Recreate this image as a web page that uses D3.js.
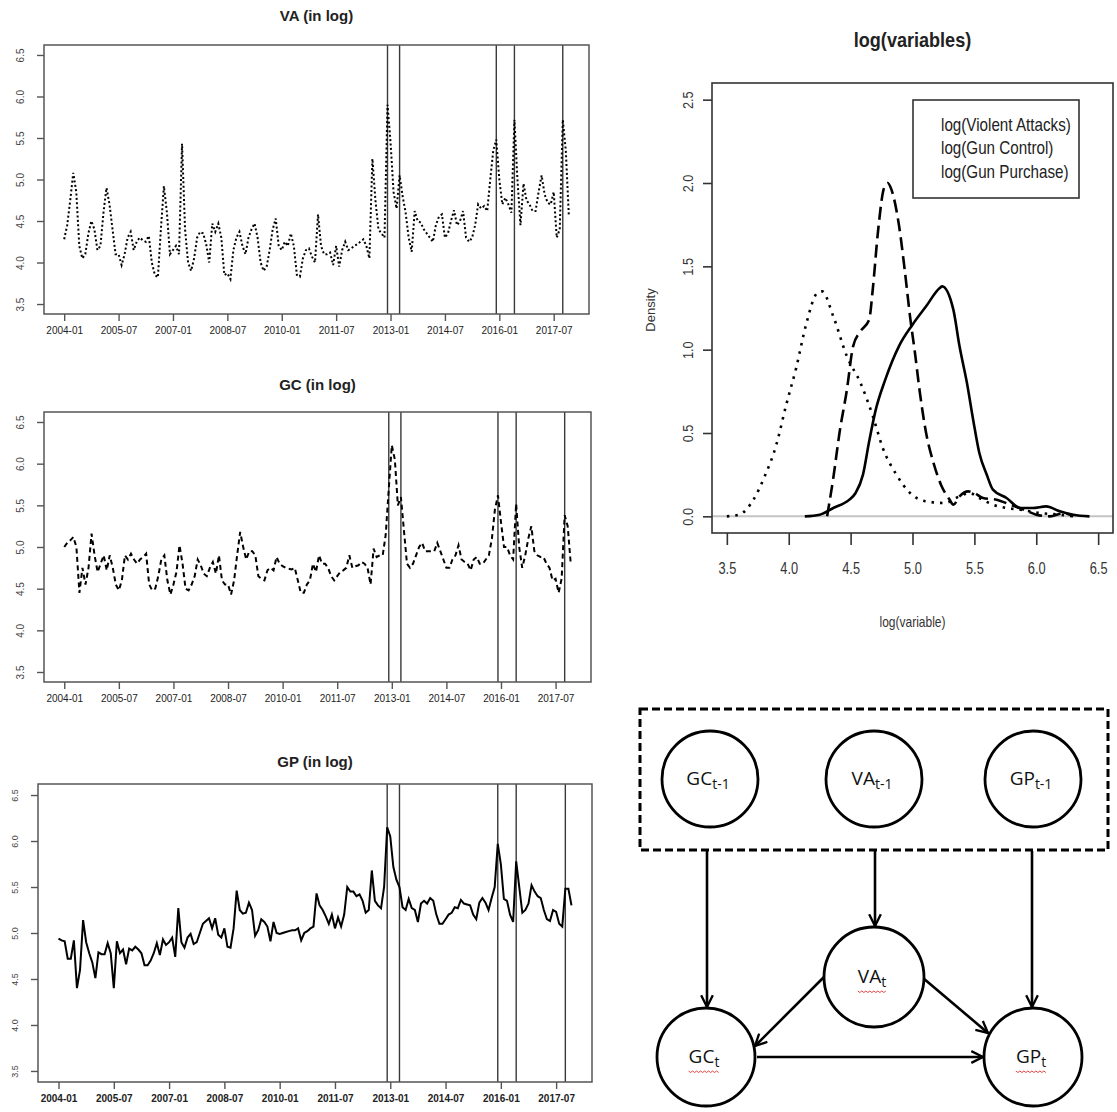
<!DOCTYPE html>
<meta charset="utf-8">
<style>
body { margin: 0; background: #fff; }
text { font-family: "Liberation Sans", Arial, sans-serif; fill: #222; }
.node text { font-family: "Open Sans", "Noto Sans", sans-serif; fill: #111; }
</style>
<body>
<script src="https://d3js.org/d3.v7.min.js"></script>
<script>

// ---- data ----
var startYear = 2004;
var tickLabels = ["2004-01", "2005-07", "2007-01", "2008-07", "2010-01", "2011-07", "2013-01", "2014-07", "2016-01", "2017-07"];
var eventMonths = ["2012-12", "2013-04", "2015-12", "2016-06", "2017-10"];
var yTicks = [3.5, 4.0, 4.5, 5.0, 5.5, 6.0, 6.5];

// monthly series, 2004-01 .. 2017-12
var vaLog = [
  4.28, 4.45, 4.75, 5.08, 4.85, 4.2, 4.05, 4.1, 4.35, 4.5, 4.4, 4.15,
  4.2, 4.6, 4.9, 4.7, 4.4, 4.1, 4.1, 3.97, 4.1, 4.3, 4.37, 4.15,
  4.25, 4.3, 4.27, 4.25, 4.32, 4.0, 3.85, 3.82, 4.4, 4.92, 4.6, 4.1,
  4.15, 4.2, 4.1, 5.43, 4.4, 4.0, 3.9, 4.05, 4.3, 4.37, 4.35, 4.22,
  4.0, 4.47, 4.37, 4.47, 4.3, 3.85, 3.87, 3.8, 4.15, 4.3, 4.37, 4.2,
  4.1, 4.3, 4.4, 4.47, 4.3, 4.0, 3.9, 3.95, 4.15, 4.4, 4.53, 4.2,
  4.15, 4.25, 4.2, 4.35, 4.2, 3.85, 3.83, 4.05, 4.15, 4.17, 4.07, 4.0,
  4.58, 4.2, 4.1, 4.1, 4.12, 3.97, 4.2, 3.95, 4.15, 4.25, 4.15, 4.17,
  4.2, 4.22, 4.25, 4.28, 4.2, 4.05, 5.25, 4.75, 4.4, 4.35, 4.3, 5.9,
  5.45, 4.85, 4.65, 5.05, 4.8, 4.6, 4.3, 4.13, 4.62, 4.5, 4.48, 4.4,
  4.35, 4.3, 4.25, 4.45, 4.55, 4.58, 4.3, 4.35, 4.5, 4.63, 4.45, 4.5,
  4.62, 4.3, 4.25, 4.3, 4.45, 4.7, 4.65, 4.68, 4.62, 5.0, 5.35, 5.48,
  5.0, 4.7, 4.78, 4.7, 4.6, 5.72, 5.0, 4.45, 4.95, 4.75, 4.7, 4.62,
  4.62, 4.85, 5.05, 4.82, 4.72, 4.7, 4.85, 4.3, 4.4, 5.72, 5.35, 4.57
];
var gcLog = [
  5.0, 5.05, 5.08, 5.12, 5.0, 4.45, 4.75, 4.55, 4.75, 5.16, 4.9, 4.7,
  4.8, 4.9, 4.72, 4.9, 4.75, 4.55, 4.48, 4.6, 4.9, 4.85, 4.92, 4.85,
  4.8, 4.85, 4.88, 4.92, 4.55, 4.48, 4.5, 4.65, 4.85, 4.9, 4.6, 4.43,
  4.55, 4.7, 5.02, 4.8, 4.5, 4.48, 4.55, 4.65, 4.85, 4.78, 4.68, 4.65,
  4.75, 4.82, 4.68, 4.9, 4.6, 4.55, 4.55, 4.43, 4.6, 4.9, 5.18, 5.0,
  4.85, 4.95, 4.95, 4.9, 4.65, 4.62, 4.6, 4.72, 4.75, 4.72, 4.88, 4.8,
  4.77, 4.75, 4.74, 4.73, 4.75, 4.6, 4.45, 4.45, 4.55, 4.6, 4.8, 4.7,
  4.9, 4.8, 4.8, 4.75, 4.65, 4.6, 4.65, 4.7, 4.72, 4.75, 4.9, 4.75,
  4.77, 4.78, 4.82, 4.8, 4.75, 4.55, 4.98, 4.88, 4.9, 4.9, 5.15, 5.7,
  6.22, 6.05, 5.5, 5.6, 5.2, 4.8, 4.75, 4.8, 4.9, 5.0, 5.05, 4.95,
  4.95, 4.95, 4.95, 5.05, 4.95, 4.85, 4.75, 4.75, 4.85, 4.9, 5.02, 4.85,
  4.82, 4.8, 4.72, 4.85, 4.88, 4.8, 4.8, 4.85, 4.9, 5.1, 5.45, 5.62,
  5.3, 5.0, 5.0, 4.9, 4.85, 5.52, 5.0, 4.75, 4.9, 5.1, 5.25, 4.95,
  4.9, 4.88, 4.88, 4.8, 4.75, 4.6, 4.62, 4.45, 4.62, 5.38, 5.25, 4.8
];
var gpLog = [
  4.94, 4.92, 4.91, 4.72, 4.72, 4.92, 4.4, 4.6, 5.14, 4.9, 4.78, 4.68,
  4.51, 4.79, 4.77, 4.77, 4.89, 4.78, 4.4, 4.91, 4.78, 4.82, 4.66, 4.83,
  4.81, 4.85, 4.82, 4.78, 4.65, 4.65, 4.7, 4.78, 4.89, 4.76, 4.93, 4.87,
  4.9, 4.95, 4.74, 5.27, 4.9, 4.84, 4.95, 4.99, 4.88, 4.9, 5.0, 5.1,
  5.13, 5.16, 5.05, 5.16, 4.98, 4.95, 5.05, 4.85, 4.84, 5.05, 5.46, 5.25,
  5.21, 5.22, 5.33, 5.25, 4.97, 5.03, 5.15, 5.12, 5.07, 4.91, 5.12, 5.0,
  4.99, 5.0, 5.01, 5.02, 5.03, 5.03, 5.05, 4.92, 5.0, 5.02, 5.05, 5.07,
  5.43, 5.3, 5.25, 5.18, 5.1, 5.2, 5.05, 5.17, 5.07, 5.2, 5.5, 5.45,
  5.45, 5.4, 5.42, 5.35, 5.22, 5.25, 5.68, 5.35, 5.3, 5.27, 5.5, 6.15,
  6.05, 5.72, 5.58, 5.5, 5.28, 5.25, 5.37, 5.27, 5.25, 5.12, 5.32, 5.35,
  5.32, 5.38, 5.35, 5.2, 5.1, 5.1, 5.15, 5.2, 5.22, 5.28, 5.27, 5.36,
  5.32, 5.31, 5.3, 5.2, 5.15, 5.33, 5.38, 5.33, 5.25, 5.38, 5.5, 5.97,
  5.75, 5.37, 5.35, 5.2, 5.12, 5.78, 5.5, 5.22, 5.25, 5.32, 5.52, 5.45,
  5.4, 5.38, 5.25, 5.15, 5.13, 5.25, 5.23, 5.1, 5.07, 5.48, 5.48, 5.3
];

// kernel density curves (x = log value, y = density)
var densTicksX = [3.5, 4.0, 4.5, 5.0, 5.5, 6.0, 6.5];
var densTicksY = [0, 0.5, 1.0, 1.5, 2.0, 2.5];
var vaDensX = [3.5, 3.6, 3.715, 3.8, 3.9, 3.98, 4.06, 4.14, 4.23, 4.27, 4.36, 4.47, 4.58, 4.68, 4.76, 4.87, 4.98, 5.11, 5.26, 5.38, 5.46, 5.54, 5.65, 5.76, 5.87, 6.03, 6.19, 6.3];
var vaDensY = [0, 0.01, 0.1, 0.23, 0.43, 0.67, 0.89, 1.15, 1.34, 1.35, 1.2, 0.96, 0.8, 0.6, 0.41, 0.25, 0.14, 0.09, 0.08, 0.12, 0.14, 0.11, 0.07, 0.05, 0.04, 0.02, 0.01, 0];
var gcDensX = [4.31, 4.36, 4.41, 4.47, 4.52, 4.58, 4.65, 4.68, 4.72, 4.77, 4.8, 4.83, 4.89, 4.94, 4.98, 5.02, 5.06, 5.11, 5.17, 5.23, 5.30, 5.33, 5.38, 5.45, 5.50, 5.57, 5.68, 5.79, 5.9, 6.0, 6.11, 6.22, 6.3];
var gcDensY = [0, 0.23, 0.5, 0.76, 1.02, 1.11, 1.18, 1.37, 1.70, 1.97, 2.0, 1.96, 1.75, 1.46, 1.2, 0.98, 0.74, 0.5, 0.32, 0.19, 0.1, 0.07, 0.12, 0.15, 0.14, 0.11, 0.10, 0.07, 0.04, 0.01, 0.0, 0.02, 0];
var gpDensX = [4.13, 4.25, 4.36, 4.49, 4.54, 4.60, 4.65, 4.70, 4.78, 4.89, 5.0, 5.11, 5.22, 5.24, 5.33, 5.38, 5.44, 5.49, 5.54, 5.60, 5.65, 5.76, 5.87, 5.97, 6.08, 6.19, 6.3, 6.43];
var gpDensY = [0, 0.01, 0.05, 0.1, 0.14, 0.25, 0.45, 0.63, 0.82, 1.02, 1.15, 1.26, 1.37, 1.38, 1.24, 1.02, 0.8, 0.58, 0.38, 0.25, 0.16, 0.11, 0.05, 0.05, 0.06, 0.03, 0.01, 0];
var legendLabels = ["log(Violent Attacks)", "log(Gun Control)", "log(Gun Purchase)"];

// ---- helpers ----
function monthIndex(s) {
  var p = s.split("-");
  return (+p[0] - startYear) * 12 + (+p[1] - 1);
}

// squeeze text horizontally, standing in for Arial Narrow
function narrow(sel, f) {
  sel.each(function() {
    var w = this.getComputedTextLength();
    d3.select(this)
        .attr("textLength", w * f)
        .attr("lengthAdjust", "spacingAndGlyphs");
  });
}

var svg = d3.select("body").append("svg")
    .attr("width", 1117)
    .attr("height", 1112);

// ---- the three time series panels ----
var panels = [
  {title: "VA (in log)", data: vaLog, dash: "2,2.4", box: {l: 44, r: 589, t: 45, b: 314}, titleY: 16, yFont: 10, xBold: false},
  {title: "GC (in log)", data: gcLog, dash: "5,3.5", box: {l: 44, r: 591, t: 412, b: 682}, titleY: 385, yFont: 10, xBold: false},
  {title: "GP (in log)", data: gpLog, dash: null, box: {l: 38, r: 592, t: 784, b: 1082}, titleY: 762, yFont: 9, xBold: true}
];

panels.forEach(function(p) {
  var g = svg.append("g");
  var n = p.data.length - 1;
  var x = d3.scaleLinear().domain([-0.04 * n, 1.04 * n]).range([p.box.l, p.box.r]);
  var y = d3.scaleLinear().domain([3.38, 6.62]).range([p.box.b, p.box.t]);

  // event lines
  g.selectAll(".ev")
      .data(eventMonths)
    .enter().append("line")
      .attr("x1", function(d) { return x(monthIndex(d)); })
      .attr("x2", function(d) { return x(monthIndex(d)); })
      .attr("y1", p.box.t)
      .attr("y2", p.box.b)
      .attr("stroke", "#3a3a3a")
      .attr("stroke-width", 1.4);

  // series
  var line = d3.line()
      .x(function(d, i) { return x(i); })
      .y(function(d) { return y(d); });
  g.append("path")
      .datum(p.data)
      .attr("d", line)
      .attr("fill", "none")
      .attr("stroke", "#000")
      .attr("stroke-width", 2)
      .attr("stroke-dasharray", p.dash);

  // box
  g.append("rect")
      .attr("x", p.box.l).attr("y", p.box.t)
      .attr("width", p.box.r - p.box.l)
      .attr("height", p.box.b - p.box.t)
      .attr("fill", "none")
      .attr("stroke", "#555")
      .attr("stroke-width", 1.5);

  // y axis
  var yAx = g.append("g")
      .attr("transform", "translate(" + p.box.l + ",0)")
      .call(d3.axisLeft(y).tickValues(yTicks).tickSize(7).tickFormat(d3.format(".1f")));
  yAx.select(".domain").remove();
  yAx.selectAll("line").attr("stroke", "#555").attr("stroke-width", 1.4);
  yAx.selectAll("text")
      .attr("transform", "rotate(-90)")
      .attr("x", 0).attr("y", -20).attr("dy", 0)
      .attr("text-anchor", "middle")
      .style("font-size", p.yFont + "px")
      .style("fill", "#444")
      .style("font-family", "Liberation Sans, Arial, sans-serif");

  // x axis
  var xAx = g.append("g")
      .attr("transform", "translate(0," + p.box.b + ")")
      .call(d3.axisBottom(x)
        .tickValues(tickLabels.map(monthIndex))
        .tickSize(7)
        .tickFormat(function(d, i) { return tickLabels[i]; }));
  xAx.select(".domain").remove();
  xAx.selectAll("line").attr("stroke", "#555").attr("stroke-width", 1.4);
  xAx.selectAll("text")
      .attr("y", 13)
      .style("font-size", "10px")
      .style("font-weight", p.xBold ? "bold" : "normal")
      .style("fill", "#222")
      .style("font-family", "Liberation Sans, Arial, sans-serif");

  // title
  svg.append("text")
      .attr("x", (p.box.l + p.box.r) / 2)
      .attr("y", p.titleY)
      .attr("dy", "0.35em")
      .attr("text-anchor", "middle")
      .style("font-weight", "bold")
      .style("font-size", "15px")
      .text(p.title);
});

// ---- density panel ----
var dBox = {l: 712, r: 1113, t: 83, b: 533};
var dx = d3.scaleLinear().domain([3.38, 6.62]).range([dBox.l, dBox.r]);
var dy = d3.scaleLinear().domain([-0.1, 2.6]).range([dBox.b, dBox.t]);
var dg = svg.append("g");

dg.append("line")
    .attr("x1", dBox.l).attr("x2", dBox.r)
    .attr("y1", dy(0)).attr("y2", dy(0))
    .attr("stroke", "#c4c4c4")
    .attr("stroke-width", 2);

var densSeries = [
  {xs: vaDensX, ys: vaDensY, dash: "2.5,6"},
  {xs: gcDensX, ys: gcDensY, dash: "13,6"},
  {xs: gpDensX, ys: gpDensY, dash: null}
];
var dline = d3.line()
    .curve(d3.curveMonotoneX)
    .x(function(d) { return dx(d[0]); })
    .y(function(d) { return dy(d[1]); });
densSeries.forEach(function(s) {
  dg.append("path")
      .datum(d3.zip(s.xs, s.ys))
      .attr("d", dline)
      .attr("fill", "none")
      .attr("stroke", "#000")
      .attr("stroke-width", 2.6)
      .attr("stroke-dasharray", s.dash);
});

dg.append("rect")
    .attr("x", dBox.l).attr("y", dBox.t)
    .attr("width", dBox.r - dBox.l)
    .attr("height", dBox.b - dBox.t)
    .attr("fill", "none")
    .attr("stroke", "#333")
    .attr("stroke-width", 1.6);

var dxAx = dg.append("g")
    .attr("transform", "translate(0," + dBox.b + ")")
    .call(d3.axisBottom(dx).tickValues(densTicksX).tickSize(12).tickFormat(d3.format(".1f")));
dxAx.select(".domain").remove();
dxAx.selectAll("line").attr("stroke", "#333").attr("stroke-width", 1.6);
dxAx.selectAll("text")
    .attr("y", 30)
    .style("font-size", "16px")
    .style("fill", "#333")
    .call(narrow, 0.8);

var dyAx = dg.append("g")
    .attr("transform", "translate(" + dBox.l + ",0)")
    .call(d3.axisLeft(dy).tickValues(densTicksY).tickSize(9).tickFormat(d3.format(".1f")));
dyAx.select(".domain").remove();
dyAx.selectAll("line").attr("stroke", "#333").attr("stroke-width", 1.6);
dyAx.selectAll("text")
    .attr("transform", "rotate(-90)")
    .attr("x", 0).attr("y", -19).attr("dy", 0)
    .attr("text-anchor", "middle")
    .style("font-size", "15px")
    .style("fill", "#333")
    .call(narrow, 0.85);

dg.append("text")
    .attr("x", (dBox.l + dBox.r) / 2)
    .attr("y", 40)
    .attr("dy", "0.35em")
    .attr("text-anchor", "middle")
    .style("font-weight", "bold")
    .style("font-size", "21px")
    .text("log(variables)")
    .call(narrow, 0.86);

dg.append("text")
    .attr("x", (dBox.l + dBox.r) / 2)
    .attr("y", 622)
    .attr("dy", "0.35em")
    .attr("text-anchor", "middle")
    .style("font-size", "15px")
    .style("fill", "#333")
    .text("log(variable)")
    .call(narrow, 0.8);

dg.append("text")
    .attr("transform", "translate(655,310) rotate(-90)")
    .attr("text-anchor", "middle")
    .style("font-size", "13px")
    .style("fill", "#333")
    .text("Density");

// legend
var lg = dg.append("g");
lg.append("rect")
    .attr("x", 913).attr("y", 100)
    .attr("width", 166).attr("height", 98)
    .attr("fill", "#fff")
    .attr("stroke", "#333")
    .attr("stroke-width", 1.6);
lg.selectAll(".lt")
    .data(legendLabels)
  .enter().append("text")
    .attr("x", 941)
    .attr("y", function(d, i) { return 124 + i * 23.5; })
    .attr("dy", "0.35em")
    .style("font-size", "19px")
    .style("fill", "#222")
    .text(function(d) { return d; })
    .call(narrow, 0.8);

// ---- path diagram ----
var nodes = [
  {id: "GC1", main: "GC", sub: "t-1", cx: 710, cy: 779, r: 48, squiggle: false},
  {id: "VA1", main: "VA", sub: "t-1", cx: 874, cy: 779, r: 48, squiggle: false},
  {id: "GP1", main: "GP", sub: "t-1", cx: 1033, cy: 779, r: 48, squiggle: false},
  {id: "VA", main: "VA", sub: "t", cx: 874, cy: 977, r: 50, squiggle: true},
  {id: "GC", main: "GC", sub: "t", cx: 706, cy: 1057, r: 49, squiggle: true},
  {id: "GP", main: "GP", sub: "t", cx: 1033, cy: 1057, r: 49, squiggle: true}
];
var arrows = [
  [707, 851, 707, 1007],
  [875, 851, 875, 926],
  [1032, 851, 1032, 1007],
  [824, 977, 755, 1046],
  [923, 978, 988, 1033],
  [757, 1057, 983, 1057]
];

var defs = svg.append("defs");
defs.append("marker")
    .attr("id", "arr")
    .attr("viewBox", "0 0 12 12")
    .attr("refX", 11).attr("refY", 6)
    .attr("markerWidth", 14).attr("markerHeight", 14)
    .attr("markerUnits", "userSpaceOnUse")
    .attr("orient", "auto")
  .append("path")
    .attr("d", "M1,1 L11,6 L1,11")
    .attr("fill", "none")
    .attr("stroke", "#000")
    .attr("stroke-width", 2);

var diag = svg.append("g");
diag.append("rect")
    .attr("x", 640).attr("y", 709)
    .attr("width", 468).attr("height", 141)
    .attr("fill", "none")
    .attr("stroke", "#000")
    .attr("stroke-width", 3)
    .attr("stroke-dasharray", "8,4");

diag.selectAll(".arrow")
    .data(arrows)
  .enter().append("line")
    .attr("x1", function(d) { return d[0]; })
    .attr("y1", function(d) { return d[1]; })
    .attr("x2", function(d) { return d[2]; })
    .attr("y2", function(d) { return d[3]; })
    .attr("stroke", "#000")
    .attr("stroke-width", 2.6)
    .attr("marker-end", "url(#arr)");

var ng = diag.selectAll(".node")
    .data(nodes)
  .enter().append("g")
    .attr("class", "node");
ng.append("circle")
    .attr("cx", function(d) { return d.cx; })
    .attr("cy", function(d) { return d.cy; })
    .attr("r", function(d) { return d.r; })
    .attr("fill", "#fff")
    .attr("stroke", "#000")
    .attr("stroke-width", 2.8);
var lbl = ng.append("text")
    .attr("x", function(d) { return d.cx - 2; })
    .attr("y", function(d) { return d.cy + 6; })
    .attr("text-anchor", "middle")
    .style("font-size", "19px");
lbl.append("tspan").text(function(d) { return d.main; });
lbl.append("tspan")
    .attr("dy", 4)
    .style("font-size", "14px")
    .text(function(d) { return d.sub; });

// red spell-check squiggles under the current-period labels
ng.filter(function(d) { return d.squiggle; }).each(function(d) {
  var bb = d3.select(this).select("text").node().getBBox();
  var pts = [];
  for (var xx = bb.x, k = 0; xx <= bb.x + bb.width; xx += 2, k++) {
    pts.push([xx, d.cy + 14 + (k % 2 ? 1.5 : 0)]);
  }
  d3.select(this).append("path")
      .attr("d", d3.line()(pts))
      .attr("fill", "none")
      .attr("stroke", "#e03030")
      .attr("stroke-width", 0.9);
});

</script>
</body>
